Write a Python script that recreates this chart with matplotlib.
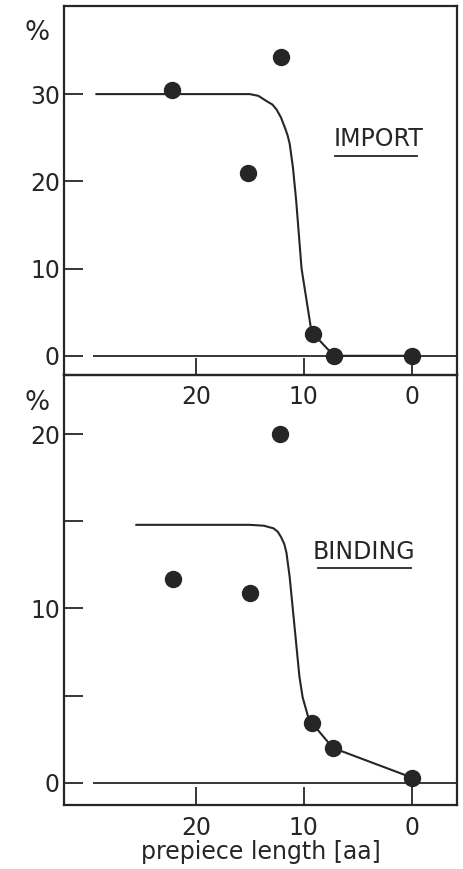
import numpy as np
import matplotlib.pyplot as plt

# prepiece length (aa) vs % import / binding
imp_x = [22.2, 15.2, 12.1, 9.1, 7.2, 0.0]
imp_y = [30.5, 20.9, 34.2, 2.5, 0.0, 0.0]
imp_curve_x = [29.2, 15.0, 14.2, 13.45, 12.9, 12.5, 12.1, 11.76, 11.5, 11.3, 11.0, 10.7,
               10.2, 9.3, 9.1, 7.2, 0.0]
imp_curve_y = [30.0, 30.0, 29.8, 29.2, 28.8, 28.2, 27.3, 26.2, 25.3, 24.3, 21.6, 17.8,
               10.0, 2.9, 2.5, 0.0, 0.0]

bind_x = [22.1, 15.0, 12.2, 9.2, 7.3, 0.0]
bind_y = [11.7, 10.9, 20.0, 3.4, 2.0, 0.3]
bind_curve_x = [25.5, 15.0, 13.7, 12.8, 12.4, 12.1, 11.8, 11.6, 11.3, 11.0, 10.7, 10.4,
                10.1, 9.6, 9.2, 7.3, 0.0]
bind_curve_y = [14.8, 14.8, 14.75, 14.6, 14.4, 14.1, 13.7, 13.2, 11.8, 9.9, 8.0, 6.1,
                4.9, 3.8, 3.4, 2.0, 0.3]

xticks = [20, 10, 0]
imp_yticks = [0, 10, 20, 30]
bind_yticks = [0, 10, 20]
bind_yminor = [5, 15]
baseline_start = 29.5

ink = '#262626'
plt.rcParams['font.family'] = ['DejaVu Sans']

fig = plt.figure(figsize=(4.64, 8.69), dpi=100)
ax1 = fig.add_axes([0.138, 0.5685, 0.847, 0.4246])
ax2 = fig.add_axes([0.138, 0.0736, 0.847, 0.4949])
ax1.set_zorder(3)
for ax in (ax1, ax2):
    ax.set_facecolor('none')
    for s in ax.spines.values():
        s.set_linewidth(1.6)
        s.set_color(ink)
    ax.set_xlim(32.2, -4.2)
    ax.set_xticks(xticks)
    ax.tick_params(direction='in', length=13.5, width=1.3, color=ink,
                   labelsize=17, labelcolor=ink)
    ax.tick_params(axis='y', pad=3)
    ax.tick_params(top=False, right=False)

ax1.set_ylim(-2.2, 40.1)
ax1.set_yticks(imp_yticks)
ax1.tick_params(axis='x', length=12, pad=7)
ax1.hlines(0, baseline_start, -4.2, color=ink, lw=1.3)
ax1.plot(imp_curve_x, imp_curve_y, color=ink, lw=1.5)
ax1.plot(imp_x, imp_y, 'o', color=ink, ms=11.5, zorder=4)
ax1.text(0.80, 0.64, 'IMPORT', transform=ax1.transAxes, ha='center', va='center',
         fontsize=17, color=ink)
ax1.plot([0.69, 0.898], [0.593, 0.593], transform=ax1.transAxes, color=ink, lw=1.3)

ax2.set_ylim(-1.28, 23.4)
ax2.set_yticks(bind_yticks)
ax2.set_yticks(bind_yminor, minor=True)
ax2.tick_params(axis='y', which='minor', direction='in', length=13.5, width=1.3, color=ink)
ax2.tick_params(axis='x', length=13, pad=8)
ax2.hlines(0, baseline_start, -4.2, color=ink, lw=1.3)
ax2.plot(bind_curve_x, bind_curve_y, color=ink, lw=1.5)
ax2.plot(bind_x, bind_y, 'o', color=ink, ms=11.5, zorder=4)
ax2.text(0.764, 0.588, 'BINDING', transform=ax2.transAxes, ha='center', va='center',
         fontsize=17, color=ink)
ax2.plot([0.646, 0.883], [0.552, 0.552], transform=ax2.transAxes, color=ink, lw=1.3)
ax2.set_xlabel('prepiece length [aa]', fontsize=17, color=ink, labelpad=0)

fig.text(0.079, 1 - 33 / 869, '%', ha='center', va='center', fontsize=19, color=ink)
fig.text(0.079, 1 - 403 / 869, '%', ha='center', va='center', fontsize=19, color=ink)

fig.savefig('out.png', dpi=100)
